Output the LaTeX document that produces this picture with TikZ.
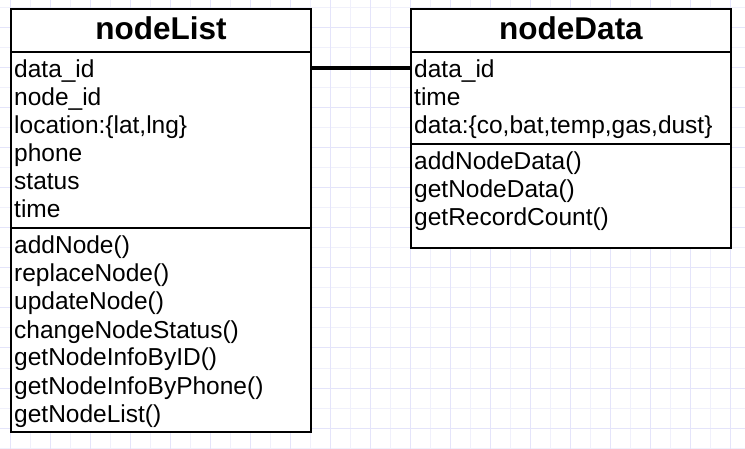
\documentclass[tikz,border=0pt]{standalone}
\usepackage{fontspec}
\setmainfont{Liberation Sans}
\usepackage{tikz}
\usetikzlibrary{positioning}

\definecolor{gridmajor}{RGB}{228,228,250}
\definecolor{gridminor}{RGB}{240,240,251}

\tikzset{
  classbox/.style={draw, line width=2pt, anchor=north west, inner sep=0pt},
  classname/.style={anchor=base, inner sep=0pt, font=\fontsize{31.5}{31.5}\selectfont\bfseries},
  member/.style={anchor=base west, inner sep=0pt, font=\fontsize{24.5}{24.5}\selectfont},
  sep/.style={line width=2pt},
  link/.style={line width=3.5pt}
}

\begin{document}
\begin{tikzpicture}[x=1pt,y=-1pt]
\useasboundingbox (0,0) rectangle (745,449);

% grid
\foreach \x in {30,70,...,710} \draw[gridminor, line width=1pt] (\x,0) -- (\x,449);
\foreach \y in {8,48,...,448} \draw[gridminor, line width=1pt] (0,\y) -- (745,\y);
\foreach \x in {10,50,...,730} \draw[gridmajor, line width=1pt] (\x,0) -- (\x,449);
\foreach \y in {28,68,...,428} \draw[gridmajor, line width=1pt] (0,\y) -- (745,\y);

\node[classbox, fill=white, minimum width=300pt, minimum height=423pt] (listBox) at (10,8) {};
\node[classbox, fill=white, minimum width=320pt, minimum height=239pt] (dataBox) at (410,8) {};

\node[classname] (listName) at (161,39.5) {nodeList};
\node[classname] (dataName) at (571,39.5) {nodeData};

\draw[sep] (10,52) -- (310,52);
\draw[sep] (10,228) -- (310,228);
\draw[sep] (410,52) -- (730,52);
\draw[sep] (410,144) -- (730,144);

\foreach \t [count=\i] in {data\_id, node\_id, {location:\{lat,lng\}}, phone, status, time}
  \node[member] (listAttr\i) at (14,{50+28*\i}) {\t};
\foreach \t [count=\i] in {addNode(), replaceNode(), updateNode(), changeNodeStatus(),
    getNodeInfoByID(), getNodeInfoByPhone(), getNodeList()}
  \node[member] (listOp\i) at (14,{226+28*\i}) {\t};

\foreach \t [count=\i] in {data\_id, time, {data:\{co,bat,temp,gas,dust\}}}
  \node[member] (dataAttr\i) at (414,{50+28*\i}) {\t};
\foreach \t [count=\i] in {addNodeData(), getNodeData(), getRecordCount()}
  \node[member] (dataOp\i) at (414,{142+28*\i}) {\t};

\coordinate (linkY) at (0,68);
\draw[link] (listBox.east |- linkY) -- (dataBox.west |- linkY);

\end{tikzpicture}
\end{document}
